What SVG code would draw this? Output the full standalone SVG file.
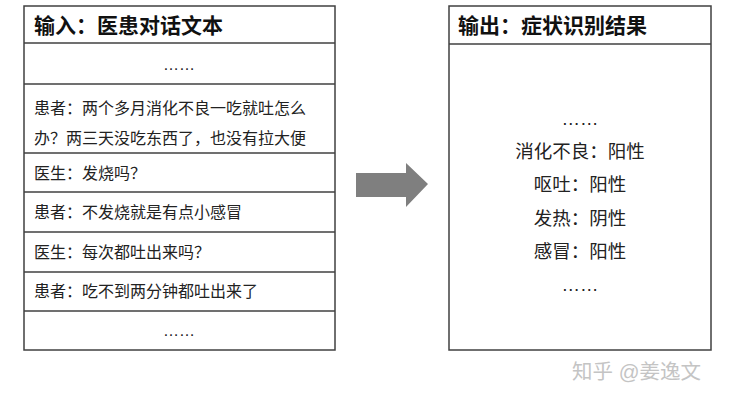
<svg xmlns="http://www.w3.org/2000/svg" width="740" height="400" viewBox="0 0 740 400">
<style>
.box{fill:#fff;stroke:#404040;stroke-width:1.5}
.ln{stroke:#404040;stroke-width:1.5}
.hd{font-family:"Liberation Sans","Noto Sans CJK SC",sans-serif;font-size:21px;font-weight:bold;fill:#111}
.t{font-family:"Liberation Sans","Noto Sans CJK SC",sans-serif;font-size:16px;fill:#222}
.r{font-family:"Liberation Sans","Noto Sans CJK SC",sans-serif;font-size:18.5px;fill:#222;text-anchor:middle}
.wm{font-family:"Liberation Sans","Noto Sans CJK SC",sans-serif;font-size:20.5px;fill:#c4c4c4}
</style>
<rect width="740" height="400" fill="#fff"/>
<g id="input">
<rect class="box" x="24" y="6" width="311" height="344"/>
<line class="ln" x1="24" y1="43" x2="335" y2="43"/>
<line class="ln" x1="24" y1="84" x2="335" y2="84"/>
<line class="ln" x1="24" y1="153" x2="335" y2="153"/>
<line class="ln" x1="24" y1="192" x2="335" y2="192"/>
<line class="ln" x1="24" y1="232" x2="335" y2="232"/>
<line class="ln" x1="24" y1="272" x2="335" y2="272"/>
<line class="ln" x1="24" y1="311" x2="335" y2="311"/>
<text class="hd" x="34" y="33">输入：医患对话文本</text>
<text class="t" x="179" y="70" text-anchor="middle">……</text>
<text class="t" x="34" y="114">患者：两个多月消化不良一吃就吐怎么</text>
<text class="t" x="34" y="144">办？两三天没吃东西了，也没有拉大便</text>
<text class="t" x="34" y="179">医生：发烧吗？</text>
<text class="t" x="34" y="218">患者：不发烧就是有点小感冒</text>
<text class="t" x="34" y="258">医生：每次都吐出来吗？</text>
<text class="t" x="34" y="297">患者：吃不到两分钟都吐出来了</text>
<text class="t" x="179" y="336" text-anchor="middle">……</text>
</g>
<g id="connectors">
<polygon points="356,173 406,173 406,163 428,184 406,207 406,197 356,197" fill="#7f7f7f"/>
</g>
<g id="output">
<rect class="box" x="449" y="6" width="262" height="344"/>
<line class="ln" x1="449" y1="44" x2="711" y2="44"/>
<text class="hd" x="458" y="33">输出：症状识别结果</text>
<text class="r" x="580" y="125">……</text>
<text class="r" x="580" y="158">消化不良：阳性</text>
<text class="r" x="580" y="191">呕吐：阳性</text>
<text class="r" x="580" y="225">发热：阴性</text>
<text class="r" x="580" y="258">感冒：阳性</text>
<text class="r" x="580" y="291">……</text>
</g>
<text class="wm" x="572" y="379">知乎 @姜逸文</text>
</svg>
